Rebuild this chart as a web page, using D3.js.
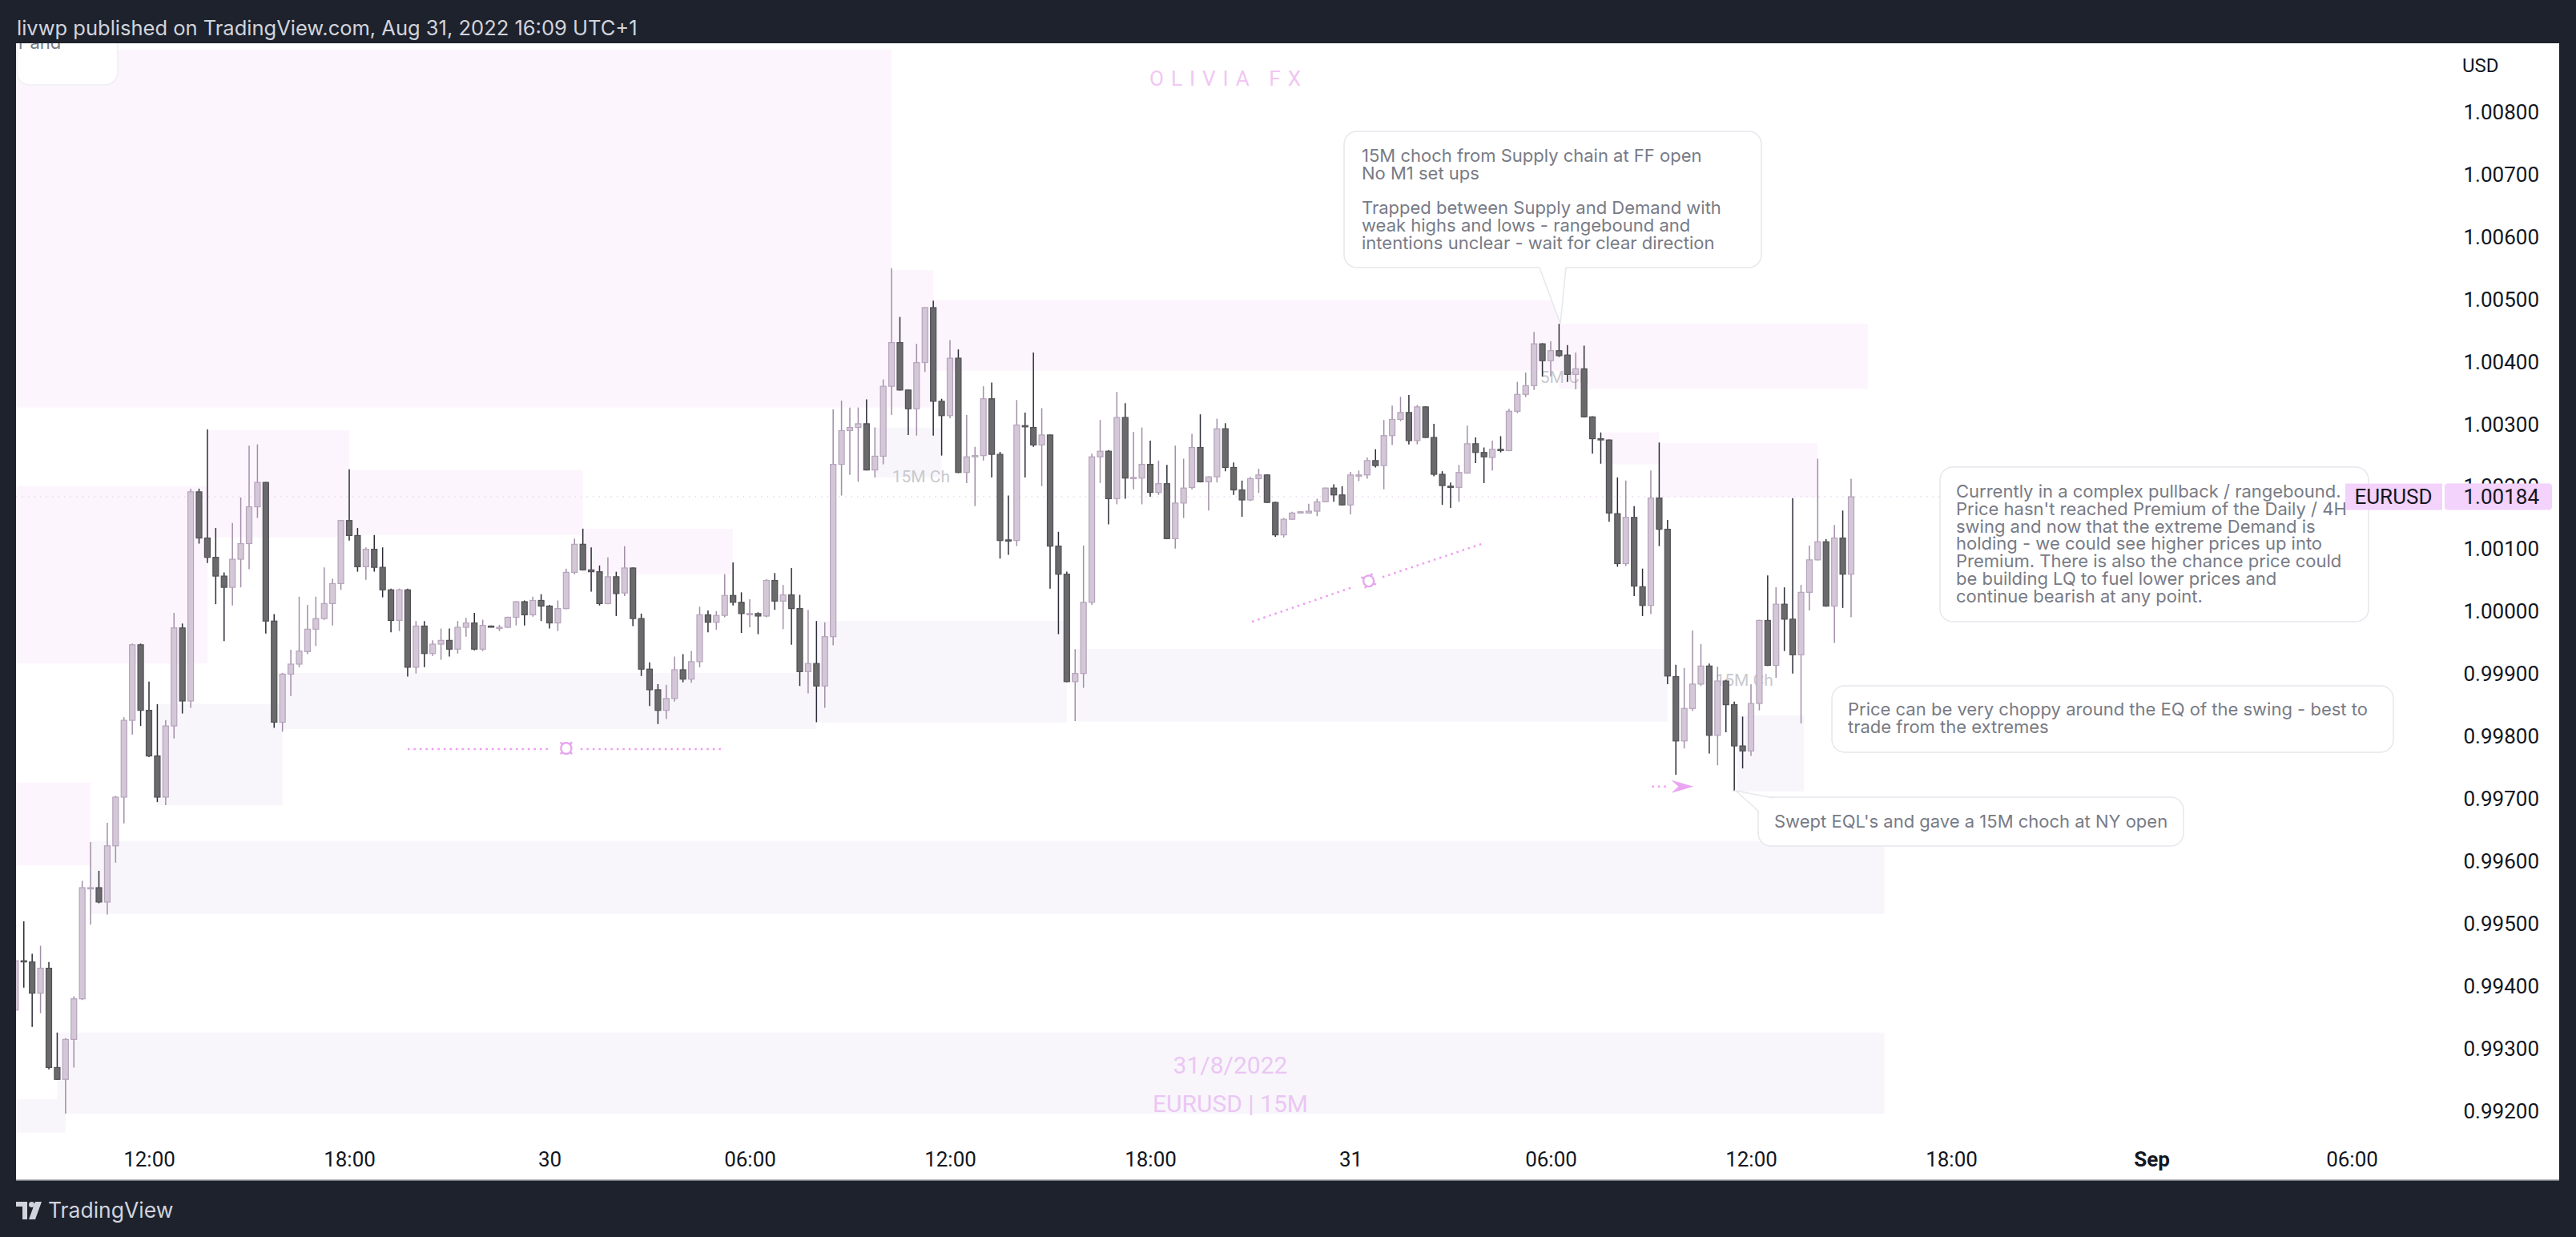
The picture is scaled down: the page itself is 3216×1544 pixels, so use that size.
<!DOCTYPE html>
<html>
<head>
<meta charset="utf-8">
<script src="https://cdnjs.cloudflare.com/ajax/libs/d3/7.8.5/d3.min.js"></script>
<style>
  body { margin: 0; background: #1e222d; }
  svg { display: block; font-family: Roboto, "Noto Sans", sans-serif; }
</style>
</head>
<body>
<div id="chart"></div>
<script>
// EURUSD 15M candles, first bar Aug 29 08:00
var firstBar = "2022-08-29T08:00";

var opens = [
  0.99362,0.99441,0.99439,0.99389,0.99429,0.99270,0.99251,0.99315,0.99380,0.99557,
  0.99558,0.99535,0.99625,0.99703,0.99826,0.99947,0.99842,0.99769,0.99703,0.99817,
  0.99974,0.99857,1.00192,1.00118,1.00087,1.00057,1.00039,1.00084,1.00109,1.00168,
  1.00207,0.99985,0.99823,0.99900,0.99916,0.99936,0.99972,0.99989,1.00013,1.00045,
  1.00146,1.00122,1.00072,1.00100,1.00071,1.00035,0.99986,1.00035,0.99911,0.99977,
  0.99933,0.99948,0.99954,0.99940,0.99975,0.99982,0.99940,0.99977,0.99974,0.99975,
  0.99991,1.00016,0.99995,1.00018,1.00009,0.99982,1.00005,1.00063,1.00108,1.00067,
  1.00064,1.00013,1.00056,1.00030,1.00070,0.99989,0.99908,0.99875,0.99842,0.99861,
  0.99907,0.99892,0.99920,0.99995,0.99983,0.99994,1.00026,1.00015,0.99996,0.99997,
  0.99993,1.00050,1.00017,1.00027,1.00005,0.99904,0.99917,0.99881,0.99960,1.00236,
  1.00290,1.00295,1.00301,1.00227,1.00249,1.00361,1.00431,1.00355,1.00325,1.00399,
  1.00487,1.00337,1.00314,1.00406,1.00223,1.00249,1.00250,1.00341,1.00252,1.00115,
  1.00114,1.00298,1.00295,1.00267,1.00283,1.00105,1.00060,0.99888,0.99901,1.00015,
  1.00248,1.00257,1.00181,1.00311,1.00214,1.00214,1.00236,1.00191,1.00205,1.00117,
  1.00174,1.00199,1.00263,1.00208,1.00216,1.00293,1.00231,1.00195,1.00179,1.00213,
  1.00219,1.00175,1.00123,1.00148,1.00159,1.00158,1.00161,1.00176,1.00198,1.00187,
  1.00171,1.00218,1.00219,1.00242,1.00234,1.00282,1.00308,1.00319,1.00274,1.00328,
  1.00279,1.00220,1.00201,1.00199,1.00222,1.00269,1.00255,1.00247,1.00260,1.00258,
  1.00321,1.00348,1.00362,1.00429,1.00402,1.00418,1.00411,1.00380,1.00389,1.00312,
  1.00277,1.00275,1.00157,1.00077,1.00151,1.00040,1.00010,1.00182,1.00132,0.99896,
  0.99793,0.99845,0.99884,0.99913,0.99802,0.99889,0.99851,0.99785,0.99777,0.99853,
  0.99986,0.99914,1.00012,0.99988,0.99931,1.00031,1.00083,1.00112,1.00009,1.00118,1.00060
];

var highs = [
  0.99452,0.99504,0.99452,0.99465,0.99439,0.99326,0.99317,0.99384,0.99569,0.99631,
  0.99585,0.99662,0.99705,0.99831,0.99949,0.99949,0.99888,0.99852,0.99826,0.99998,
  0.99981,1.00197,1.00197,1.00292,1.00134,1.00063,1.00142,1.00183,1.00266,1.00268,
  1.00208,0.99996,0.99902,0.99939,1.00024,1.00011,1.00024,1.00071,1.00053,1.00147,
  1.00228,1.00134,1.00103,1.00123,1.00103,1.00037,1.00037,1.00037,0.99985,0.99985,
  0.99954,0.99973,0.99973,0.99985,0.99990,0.99998,0.99987,0.99978,0.99979,0.99992,
  1.00017,1.00018,1.00024,1.00028,1.00011,1.00018,1.00069,1.00117,1.00133,1.00103,
  1.00074,1.00087,1.00064,1.00105,1.00071,0.99997,0.99919,0.99884,0.99883,0.99928,
  0.99932,0.99937,1.00008,1.00002,1.00001,1.00060,1.00079,1.00031,1.00020,0.99999,
  1.00052,1.00062,1.00043,1.00070,1.00027,1.00003,0.99985,0.99983,1.00324,1.00338,
  1.00327,1.00327,1.00340,1.00295,1.00372,1.00550,1.00472,1.00356,1.00429,1.00488,
  1.00498,1.00341,1.00435,1.00420,1.00315,1.00264,1.00361,1.00367,1.00256,1.00186,
  1.00339,1.00319,1.00415,1.00326,1.00284,1.00128,1.00064,0.99940,1.00106,1.00253,
  1.00307,1.00259,1.00352,1.00334,1.00288,1.00295,1.00274,1.00242,1.00235,1.00266,
  1.00245,1.00285,1.00316,1.00217,1.00309,1.00302,1.00239,1.00210,1.00216,1.00229,
  1.00220,1.00176,1.00150,1.00160,1.00161,1.00173,1.00181,1.00199,1.00204,1.00201,
  1.00224,1.00226,1.00247,1.00260,1.00307,1.00330,1.00344,1.00347,1.00331,1.00329,
  1.00301,1.00225,1.00207,1.00235,1.00298,1.00279,1.00263,1.00274,1.00281,1.00325,
  1.00368,1.00383,1.00448,1.00430,1.00433,1.00461,1.00427,1.00415,1.00426,1.00313,
  1.00287,1.00276,1.00215,1.00210,1.00169,1.00069,1.00226,1.00271,1.00147,0.99915,
  0.99910,0.99970,0.99948,0.99917,0.99912,0.99891,0.99856,0.99832,0.99884,0.99987,
  1.00058,1.00039,1.00039,1.00182,1.00043,1.00106,1.00245,1.00116,1.00139,1.00162,1.00213
];

var lows = [
  0.99330,0.99398,0.99335,0.99357,0.99267,0.99250,0.99196,0.99270,0.99378,0.99499,
  0.99533,0.99515,0.99598,0.99661,0.99803,0.99817,0.99767,0.99695,0.99690,0.99797,
  0.99837,0.99846,1.00109,1.00078,1.00012,0.99953,1.00010,1.00039,1.00068,1.00150,
  0.99965,0.99814,0.99808,0.99865,0.99911,0.99932,0.99945,0.99987,0.99978,1.00035,
  1.00114,1.00064,1.00051,1.00064,1.00023,0.99967,0.99969,0.99896,0.99901,0.99911,
  0.99929,0.99923,0.99928,0.99933,0.99960,0.99938,0.99937,0.99975,0.99969,0.99974,
  0.99978,0.99978,0.99992,0.99985,0.99973,0.99969,1.00004,1.00060,1.00066,1.00032,
  1.00010,1.00012,0.99993,1.00025,0.99977,0.99897,0.99849,0.99820,0.99828,0.99856,
  0.99887,0.99886,0.99911,0.99967,0.99971,0.99991,1.00010,0.99966,0.99975,0.99964,
  0.99991,1.00003,0.99972,0.99947,0.99881,0.99869,0.99823,0.99846,0.99946,1.00186,
  1.00219,1.00208,1.00226,1.00215,1.00236,1.00315,1.00354,1.00283,1.00282,1.00384,
  1.00282,1.00250,1.00310,1.00222,1.00206,1.00169,1.00242,1.00215,1.00085,1.00091,
  1.00105,1.00215,1.00264,1.00201,1.00037,0.99964,0.99887,0.99825,0.99878,1.00011,
  1.00206,1.00140,1.00172,1.00181,1.00196,1.00172,1.00184,1.00187,1.00116,1.00101,
  1.00150,1.00196,1.00207,1.00162,1.00207,1.00225,1.00187,1.00152,1.00177,1.00190,
  1.00174,1.00120,1.00119,1.00147,1.00157,1.00157,1.00153,1.00175,1.00176,1.00170,
  1.00156,1.00209,1.00213,1.00231,1.00196,1.00267,1.00305,1.00268,1.00268,1.00278,
  1.00217,1.00171,1.00166,1.00176,1.00221,1.00238,1.00206,1.00226,1.00255,1.00257,
  1.00318,1.00344,1.00355,1.00377,1.00377,1.00408,1.00368,1.00356,1.00311,1.00253,
  1.00237,1.00144,1.00072,1.00073,1.00025,0.99993,0.99996,1.00105,0.99884,0.99739,
  0.99781,0.99841,0.99881,0.99773,0.99754,0.99807,0.99713,0.99749,0.99769,0.99842,
  0.99913,0.99894,0.99937,0.99901,0.99821,1.00002,1.00082,1.00008,0.99950,1.00006,0.99991
];

var closes = [
  0.99441,0.99440,0.99389,0.99429,0.99270,0.99251,0.99315,0.99380,0.99558,0.99558,
  0.99535,0.99625,0.99703,0.99826,0.99947,0.99842,0.99769,0.99703,0.99817,0.99974,
  0.99857,1.00192,1.00118,1.00087,1.00057,1.00039,1.00084,1.00109,1.00168,1.00207,
  0.99985,0.99823,0.99900,0.99916,0.99937,0.99972,0.99989,1.00013,1.00045,1.00146,
  1.00122,1.00072,1.00100,1.00071,1.00035,0.99986,1.00035,0.99911,0.99977,0.99933,
  0.99948,0.99954,0.99940,0.99975,0.99982,0.99940,0.99978,0.99976,0.99975,0.99991,
  1.00016,0.99995,1.00018,1.00009,0.99982,1.00005,1.00063,1.00108,1.00067,1.00064,
  1.00013,1.00056,1.00029,1.00070,0.99989,0.99908,0.99875,0.99842,0.99861,0.99907,
  0.99892,0.99920,0.99995,0.99983,0.99994,1.00026,1.00015,0.99997,0.99997,0.99993,
  1.00050,1.00017,1.00027,1.00005,0.99904,0.99917,0.99881,0.99960,1.00236,1.00290,
  1.00295,1.00301,1.00227,1.00249,1.00361,1.00431,1.00355,1.00325,1.00399,1.00487,
  1.00337,1.00314,1.00406,1.00223,1.00248,1.00250,1.00341,1.00252,1.00114,1.00114,
  1.00299,1.00296,1.00267,1.00283,1.00105,1.00060,0.99888,0.99901,1.00015,1.00248,
  1.00257,1.00181,1.00311,1.00214,1.00215,1.00236,1.00191,1.00205,1.00117,1.00174,
  1.00198,1.00263,1.00208,1.00216,1.00293,1.00231,1.00195,1.00179,1.00213,1.00219,
  1.00175,1.00123,1.00148,1.00158,1.00160,1.00161,1.00176,1.00198,1.00187,1.00171,
  1.00219,1.00219,1.00242,1.00234,1.00282,1.00308,1.00319,1.00274,1.00328,1.00279,
  1.00220,1.00202,1.00200,1.00223,1.00269,1.00255,1.00248,1.00260,1.00258,1.00321,
  1.00348,1.00362,1.00429,1.00402,1.00418,1.00410,1.00380,1.00389,1.00312,1.00277,
  1.00276,1.00158,1.00077,1.00151,1.00041,1.00010,1.00182,1.00132,0.99897,0.99793,
  0.99845,0.99884,0.99913,0.99802,0.99889,0.99851,0.99785,0.99777,0.99853,0.99986,
  0.99914,1.00012,0.99988,0.99931,1.00031,1.00083,1.00112,1.00009,1.00118,1.00060,1.00184
];

var priceTicks = [0.992,0.993,0.994,0.995,0.996,0.997,0.998,0.999,1.000,
                  1.001,1.002,1.003,1.004,1.005,1.006,1.007,1.008];

var timeTicks = ["2022-08-29T12:00","2022-08-29T18:00","2022-08-30T00:00","2022-08-30T06:00",
                 "2022-08-30T12:00","2022-08-30T18:00","2022-08-31T00:00","2022-08-31T06:00",
                 "2022-08-31T12:00","2022-08-31T18:00","2022-09-01T00:00","2022-09-01T06:00"];
var timeLabels = ["12:00","18:00","30","06:00","12:00","18:00","31","06:00","12:00","18:00","Sep","06:00"];

// [start, end, top, bottom]
var supplyZones = [
  ["2022-08-29T07:30","2022-08-30T10:15",1.00900,1.00327],
  ["2022-08-30T10:15","2022-08-30T11:30",1.00547,1.00327],
  ["2022-08-30T11:30","2022-08-31T06:15",1.00499,1.00386],
  ["2022-08-31T06:15","2022-08-31T15:30",1.00461,1.00357],
  ["2022-08-31T07:35","2022-08-31T09:15",1.00287,1.00236],
  ["2022-08-31T09:15","2022-08-31T14:00",1.00270,1.00183],
  ["2022-08-29T07:30","2022-08-29T13:45",1.00201,0.99917],
  ["2022-08-29T13:45","2022-08-29T18:00",1.00291,1.00119],
  ["2022-08-29T18:00","2022-08-30T01:00",1.00227,1.00123],
  ["2022-08-30T01:00","2022-08-30T05:30",1.00133,1.00060],
  ["2022-08-29T07:30","2022-08-29T10:15",0.99726,0.99594]
];
var demandZones = [
  ["2022-08-30T09:45","2022-08-30T11:45",1.00295,1.00215],
  ["2022-08-30T08:00","2022-08-30T15:30",0.99985,0.99822],
  ["2022-08-30T15:45","2022-08-31T09:30",0.99940,0.99824],
  ["2022-08-31T11:35","2022-08-31T13:35",0.99834,0.99712],
  ["2022-08-29T16:00","2022-08-30T08:00",0.99902,0.99812],
  ["2022-08-29T12:15","2022-08-29T16:00",0.99852,0.99690],
  ["2022-08-29T10:15","2022-08-31T16:00",0.99633,0.99516],
  ["2022-08-29T09:15","2022-08-31T16:00",0.99326,0.99196],
  ["2022-08-29T07:30","2022-08-29T09:30",0.99219,0.99166]
];

// drawing tools: [time, price]
var eqLine = [["2022-08-29T19:45",0.99780],["2022-08-30T05:15",0.99780]];
var eqIcon = ["2022-08-30T00:30",0.99780];
var trendLine = [["2022-08-30T21:03",0.99984],["2022-08-31T04:01",1.00110]];
var trendIcon = ["2022-08-31T00:33",1.00048];
var sweepArrow = [["2022-08-31T09:02",0.99720],["2022-08-31T10:17",0.99720]];
var chochLabels = [["2022-08-30T11:08",1.00214],["2022-08-31T06:16",1.00373],["2022-08-31T11:48",0.99888]];

var lastPrice = 1.00184;

var W = 3216, H = 1544;
var plot = {left: 20, right: 3050, top: 54, bottom: 1420};
var noteFont = "Inter, Roboto, sans-serif";
var parse = d3.utcParse("%Y-%m-%dT%H:%M");

var x = d3.scaleUtc()
  .domain([parse("2022-08-29T12:00"), parse("2022-09-01T06:00")])
  .range([186, 2936]);
var y = d3.scaleLinear().domain([0.992, 1.008]).range([1387, 140]);

var t0 = parse(firstBar);
var bars = opens.map(function(o, i) {
  return {t: d3.utcMinute.offset(t0, 15 * i), o: o, h: highs[i], l: lows[i], c: closes[i]};
});

var svg = d3.select("#chart").append("svg").attr("width", W).attr("height", H);

svg.append("rect").attr("width", W).attr("height", H).attr("fill", "#1e222d");
svg.append("rect").attr("x", 20).attr("y", 54).attr("width", 3175).attr("height", 1419).attr("fill", "#ffffff");

svg.append("text").attr("x", 21).attr("y", 44).attr("fill", "#d1d4dc").attr("font-size", 25.5)
  .attr("font-family", noteFont)
  .text("livwp published on TradingView.com, Aug 31, 2022 16:09 UTC+1");

svg.append("clipPath").attr("id", "plotclip").append("rect")
  .attr("x", plot.left).attr("y", plot.top)
  .attr("width", plot.right - plot.left).attr("height", plot.bottom - plot.top);

var g = svg.append("g").attr("clip-path", "url(#plotclip)");

function drawZones(list, fill) {
  g.append("g").selectAll("rect").data(list).join("rect")
    .attr("x", function(d) { return x(parse(d[0])); })
    .attr("width", function(d) { return x(parse(d[1])) - x(parse(d[0])); })
    .attr("y", function(d) { return y(d[2]); })
    .attr("height", function(d) { return y(d[3]) - y(d[2]); })
    .attr("fill", fill);
}
drawZones(supplyZones, "#fdf5fd");
drawZones(demandZones, "#f8f6fb");

// top-left note box, mostly off the top
g.append("rect").attr("x", 21).attr("y", -60).attr("width", 126).attr("height", 166).attr("rx", 16)
  .attr("fill", "#ffffff").attr("stroke", "#eeeef2").attr("stroke-width", 1.5);
g.append("text").attr("x", 23).attr("y", 61).attr("font-size", 22).attr("font-family", noteFont)
  .attr("fill", "#787b86").text("r and");

// watermarks
g.append("text").attr("x", 1534).attr("y", 107).attr("text-anchor", "middle").attr("font-size", 26)
  .attr("letter-spacing", 9).attr("fill", "#f1c6f3").text("OLIVIA FX");
g.append("text").attr("x", 1536).attr("y", 1340).attr("text-anchor", "middle").attr("font-size", 30)
  .attr("fill", "#ebc6f4").text("31/8/2022");
g.append("text").attr("x", 1536).attr("y", 1388).attr("text-anchor", "middle").attr("font-size", 30)
  .attr("fill", "#ebc6f4").text("EURUSD | 15M");

// last price line
g.append("line").attr("x1", plot.left).attr("x2", plot.right)
  .attr("y1", y(lastPrice)).attr("y2", y(lastPrice))
  .attr("stroke", "#ead9ee").attr("stroke-width", 1.5).attr("stroke-dasharray", "1.5,6");

// choch labels
g.append("g").selectAll("text").data(chochLabels).join("text")
  .attr("x", function(d) { return x(parse(d[0])); })
  .attr("y", function(d) { return y(d[1]); })
  .attr("text-anchor", "middle").attr("dominant-baseline", "middle")
  .attr("font-size", 21).attr("fill", "#c9c9cd").text("15M Ch");

// pink drawing tools
var pink = "#ef9cf1";
var ex1 = x(parse(eqLine[0][0])), ex2 = x(parse(eqLine[1][0])), ey = y(eqLine[0][1]);
var eix = x(parse(eqIcon[0]));
g.append("line").attr("x1", ex1).attr("x2", eix - 22).attr("y1", ey).attr("y2", ey)
  .attr("stroke", pink).attr("stroke-width", 2.5).attr("stroke-dasharray", "2.5,5");
g.append("line").attr("x1", eix + 18).attr("x2", ex2).attr("y1", ey).attr("y2", ey)
  .attr("stroke", pink).attr("stroke-width", 2.5).attr("stroke-dasharray", "2.5,5");
g.append("text").attr("x", eix).attr("y", ey).attr("text-anchor", "middle").attr("dominant-baseline", "middle")
  .attr("font-size", 26).attr("fill", "#e6a6ef").text("\u00a4");

var tx1 = x(parse(trendLine[0][0])), ty1 = y(trendLine[0][1]);
var tx2 = x(parse(trendLine[1][0])), ty2 = y(trendLine[1][1]);
var tix = x(parse(trendIcon[0])), tiy = y(trendIcon[1]);
var ang = Math.atan2(ty2 - ty1, tx2 - tx1);
g.append("line").attr("x1", tx1).attr("y1", ty1)
  .attr("x2", tix - 22 * Math.cos(ang)).attr("y2", tiy - 22 * Math.sin(ang))
  .attr("stroke", pink).attr("stroke-width", 2.5).attr("stroke-dasharray", "2.5,5");
g.append("line").attr("x1", tix + 18 * Math.cos(ang)).attr("y1", tiy + 18 * Math.sin(ang))
  .attr("x2", tx2).attr("y2", ty2)
  .attr("stroke", pink).attr("stroke-width", 2.5).attr("stroke-dasharray", "2.5,5");
g.append("text").attr("x", tix).attr("y", tiy).attr("text-anchor", "middle").attr("dominant-baseline", "middle")
  .attr("transform", "rotate(" + (ang * 180 / Math.PI) + "," + tix + "," + tiy + ")")
  .attr("font-size", 26).attr("fill", "#e6a6ef").text("\u00a4");

var ax1 = x(parse(sweepArrow[0][0])), ax2 = x(parse(sweepArrow[1][0])), ay = y(sweepArrow[0][1]);
g.append("line").attr("x1", ax1).attr("x2", ax2 - 30).attr("y1", ay).attr("y2", ay)
  .attr("stroke", pink).attr("stroke-width", 2.5).attr("stroke-dasharray", "2.5,5");
g.append("path")
  .attr("d", "M" + ax2 + "," + ay + " L" + (ax2 - 28) + "," + (ay - 8) + " L" + (ax2 - 19) + "," + ay +
             " L" + (ax2 - 28) + "," + (ay + 8) + " Z")
  .attr("fill", "#eaa6f3");

// candles
var bullWick = "#a28ea8", bearWick = "#2b2c37";
var cg = g.append("g");
cg.selectAll("line").data(bars).join("line")
  .attr("x1", function(d) { return x(d.t); }).attr("x2", function(d) { return x(d.t); })
  .attr("y1", function(d) { return y(d.h); }).attr("y2", function(d) { return y(d.l); })
  .attr("stroke", function(d) { return d.c >= d.o ? bullWick : bearWick; })
  .attr("stroke-width", 1.5);
cg.selectAll("rect").data(bars).join("rect")
  .attr("x", function(d) { return x(d.t) - 3.5; })
  .attr("width", 7)
  .attr("y", function(d) { return y(Math.max(d.o, d.c)); })
  .attr("height", function(d) { return Math.max(1.5, Math.abs(y(d.o) - y(d.c))); })
  .attr("fill", function(d) { return d.c >= d.o ? "#d4c7d8" : "#6a6a6c"; })
  .attr("stroke", function(d) { return d.c >= d.o ? "#b5a4bb" : "#515155"; })
  .attr("stroke-width", 1.2);

// callouts
var noteColor = "#787b86", noteBorder = "#e6e7ec";
function callout(bx, by, bw, bh, lines, tx, ty) {
  var c = svg.append("g");
  c.append("rect").attr("x", bx).attr("y", by).attr("width", bw).attr("height", bh).attr("rx", 16)
    .attr("fill", "#ffffff").attr("stroke", noteBorder).attr("stroke-width", 1.5);
  c.append("g").selectAll("text").data(lines).join("text")
    .attr("x", tx).attr("y", function(d, i) { return ty + i * 21.8; })
    .attr("font-size", 22).attr("font-family", noteFont).attr("fill", noteColor)
    .text(function(d) { return d; });
  return c;
}

var c1 = callout(1678, 164, 521, 170, [
  "15M choch from Supply chain at FF open",
  "No M1 set ups",
  "",
  "Trapped between Supply and Demand with",
  "weak highs and lows - rangebound and",
  "intentions unclear - wait for clear direction"
], 1700, 202);
c1.append("path").attr("d", "M1922,333 L1948,404 L1955,333 Z").attr("fill", "#ffffff");
c1.append("path").attr("d", "M1922,334 L1948,404 L1955,334").attr("fill", "none")
  .attr("stroke", noteBorder).attr("stroke-width", 1.5);

callout(2287, 856, 701, 83, [
  "Price can be very choppy around the EQ of the swing - best to",
  "trade from the extremes"
], 2307, 893);

var c4 = callout(2195, 995, 531, 61, ["Swept EQL's and gave a 15M choch at NY open"], 2215, 1033);
c4.append("path").attr("d", "M2196,1013 L2167,987 L2214,996 Z").attr("fill", "#ffffff");
c4.append("path").attr("d", "M2196,1013 L2167,987 L2214,996").attr("fill", "none")
  .attr("stroke", noteBorder).attr("stroke-width", 1.5);

callout(2422, 583, 535, 193, [
  "Currently in a complex pullback / rangebound.",
  "Price hasn't reached Premium of the Daily / 4H",
  "swing and now that the extreme Demand is",
  "holding - we could see higher prices up into",
  "Premium. There is also the chance price could",
  "be building LQ to fuel lower prices and",
  "continue bearish at any point."
], 2442, 621);

// price axis
svg.append("text").attr("x", 3074).attr("y", 90).attr("font-size", 24).attr("fill", "#131722").text("USD");
var yAxis = svg.append("g").attr("transform", "translate(3170,0)")
  .call(d3.axisLeft(y).tickValues(priceTicks).tickFormat(d3.format(".5f")).tickSize(0).tickPadding(0));
yAxis.select(".domain").remove();
yAxis.selectAll("text").attr("font-size", 26).attr("fill", "#131722").attr("font-family", "Roboto, sans-serif");

// last price tag
var ly = y(lastPrice);
svg.append("rect").attr("x", 2928).attr("y", ly - 16.5).attr("width", 121).attr("height", 33).attr("fill", "#f3d2fb");
svg.append("rect").attr("x", 3052).attr("y", ly - 16.5).attr("width", 134).attr("height", 33).attr("rx", 4).attr("fill", "#f3d2fb");
svg.append("text").attr("x", 2988).attr("y", ly + 9).attr("text-anchor", "middle").attr("font-size", 26)
  .attr("fill", "#131722").text("EURUSD");
svg.append("text").attr("x", 3170).attr("y", ly + 9).attr("text-anchor", "end").attr("font-size", 26)
  .attr("fill", "#131722").text(d3.format(".5f")(lastPrice));

// time axis
var xAxis = svg.append("g").attr("transform", "translate(0,1438)")
  .call(d3.axisBottom(x).tickValues(timeTicks.map(parse))
    .tickFormat(function(d, i) { return timeLabels[i]; }).tickSize(0).tickPadding(0));
xAxis.select(".domain").remove();
xAxis.selectAll("text").attr("font-size", 26).attr("fill", "#131722").attr("font-family", "Roboto, sans-serif")
  .attr("font-weight", function(d, i) { return timeLabels[i] === "Sep" ? "bold" : null; });

// footer
svg.append("line").attr("x1", 20).attr("x2", 3195).attr("y1", 1473).attr("y2", 1473)
  .attr("stroke", "#9598a1").attr("stroke-width", 1.5);
var logo = svg.append("g").attr("fill", "#d1d4dc");
logo.append("path").attr("d", "M20,1500 H34 V1522 H28 V1506 H20 Z");
logo.append("circle").attr("cx", 39.5).attr("cy", 1503.5).attr("r", 3.5);
logo.append("path").attr("d", "M44,1500 H52 L44,1522 H36 Z");
svg.append("text").attr("x", 60).attr("y", 1520).attr("font-size", 26.5).attr("font-family", noteFont)
  .attr("fill", "#d1d4dc").text("TradingView");
</script>
</body>
</html>
